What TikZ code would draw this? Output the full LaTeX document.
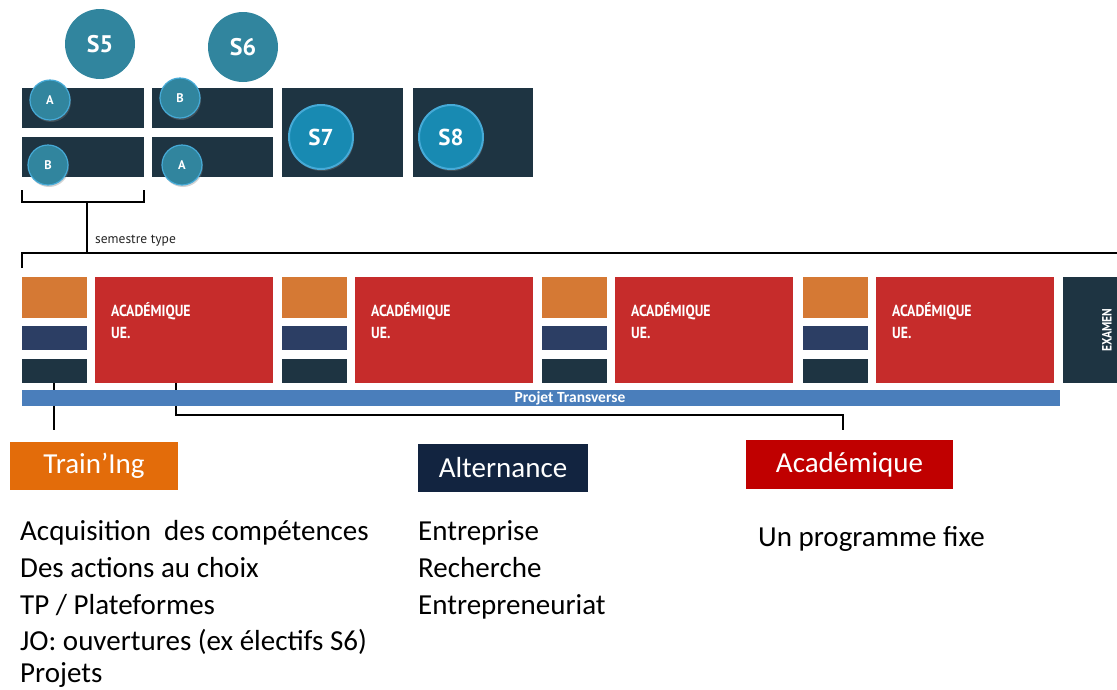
\documentclass[tikz,border=0pt]{standalone}
\usepackage{fontspec}
\setmainfont{Carlito}
\newfontfamily\dinfont{PT Sans}
\usetikzlibrary{shadows,calc}
\definecolor{darkb}{RGB}{30,52,66}
\definecolor{tealc}{RGB}{49,133,158}
\definecolor{rim}{RGB}{70,170,215}
\definecolor{sbig}{RGB}{24,138,178}
\definecolor{orangeb}{RGB}{213,121,52}
\definecolor{navyb}{RGB}{44,62,100}
\definecolor{redb}{RGB}{198,44,43}
\definecolor{projet}{RGB}{74,126,187}
\definecolor{trainc}{RGB}{227,108,10}
\definecolor{altc}{RGB}{18,36,64}
\definecolor{acadc}{RGB}{192,0,0}
\newcommand{\narrow}[1]{\scalebox{0.86}[1]{#1}}
\begin{document}
\begin{tikzpicture}[x=1pt,y=-1pt,
  blk/.style={inner sep=0pt, outer sep=0pt, anchor=north west, draw=none},
  bigc/.style={circle, fill=tealc, minimum size=70pt, inner sep=0pt, text=white, font=\dinfont\bfseries\fontsize{24}{26}\selectfont},
  smallc/.style={circle, fill=tealc, draw=rim, line width=1.2pt, minimum size=40pt, inner sep=0pt, text=white,
     font=\dinfont\bfseries\fontsize{12.5}{13}\selectfont, drop shadow={shadow xshift=1pt, shadow yshift=-2pt, opacity=0.35}},
  semc/.style={circle, fill=sbig, draw=rim, line width=2pt, minimum size=64pt, inner sep=0pt, text=white,
     font=\dinfont\bfseries\fontsize{23}{24}\selectfont, drop shadow={shadow xshift=1pt, shadow yshift=-2pt, opacity=0.35}},
  labbox/.style={inner sep=0pt, outer sep=0pt, anchor=north west, text=white, font=\fontsize{29}{30}\selectfont},
  acadtxt/.style={anchor=north west, inner sep=0pt, align=left, text=white, font=\dinfont\bfseries\fontsize{16}{22}\selectfont},
  listtxt/.style={anchor=base west, inner sep=0pt, font=\fontsize{29}{30}\selectfont},
  conn/.style={draw=black, line width=1.3pt}
]
\useasboundingbox (0,0) rectangle (1117,689);

% --- top semesters
\node[blk, fill=darkb, minimum width=122pt, minimum height=40pt] (s5a) at (22,88) {};
\node[blk, fill=darkb, minimum width=122pt, minimum height=40pt] (s5b) at (22,137) {};
\node[blk, fill=darkb, minimum width=121pt, minimum height=40pt] (s6b) at (152,88) {};
\node[blk, fill=darkb, minimum width=121pt, minimum height=40pt] (s6a) at (152,137) {};
\node[blk, fill=darkb, minimum width=121pt, minimum height=89pt] (s7box) at (282,88) {};
\node[blk, fill=darkb, minimum width=120pt, minimum height=89pt] (s8box) at (413,88) {};

\node[bigc] (S5) at (100,44) {S5};
\node[bigc] (S6) at (243,47) {S6};
\node[smallc] (ca1) at (50,100) {A};
\node[smallc] (cb1) at (48,165) {B};
\node[smallc] (cb2) at (180,98) {B};
\node[smallc] (ca2) at (182,165) {A};
\node[semc] (S7) at (321,137) {S7};
\node[semc] (S8) at (451,137) {S8};

% --- bracket and semestre type line
\coordinate (brl) at (22,190);
\coordinate (brr) at (144,190);
\coordinate (brm) at (87,202);
\coordinate (semL) at (22,253);
\coordinate (semR) at (1117,253);
\coordinate (semD) at (22,268);
\draw[conn] (brl) -- (22,202) -- (144,202) -- (brr);
\draw[conn] (brm) -- (brm |- semL);
\draw[conn] (semD) -- (semL) -- (semR);
\node[anchor=base west, inner sep=0pt, text=black!85, font=\dinfont\fontsize{13.5}{15}\selectfont] (semtxt) at (95,243) {semestre type};

% --- week blocks
\foreach \i/\x in {1/22, 2/282, 3/542, 4/803}{
  \node[blk, fill=orangeb, minimum width=65pt, minimum height=41pt] (o\i) at (\x,277) {};
  \node[blk, fill=navyb, minimum width=65pt, minimum height=24pt] (n\i) at (\x,326) {};
  \node[blk, fill=darkb, minimum width=65pt, minimum height=24pt] (d\i) at (\x,359) {};
  \node[blk, fill=redb, minimum width=178pt, minimum height=106pt] (r\i) at (\x+73,277) {};
  \node[acadtxt] (t\i) at (\x+89,302) {\narrow{ACADÉMIQUE}\\\narrow{UE.}};
}
\node[blk, fill=darkb, minimum width=54pt, minimum height=106pt] (exam) at (1063,277) {};
\node[rotate=90, inner sep=0pt, text=white, font=\dinfont\bfseries\fontsize{13.5}{14}\selectfont] (examtxt) at (1107,330) {\narrow{EXAMEN}};

% --- category labels
\node[labbox, fill=trainc, minimum width=168pt, minimum height=48pt] (train) at (10,442) {Train’Ing};
\node[labbox, fill=altc, minimum width=170pt, minimum height=48pt] (alt) at (418,444) {Alternance};
\node[labbox, fill=acadc, minimum width=207pt, minimum height=49pt] (acad) at (746,440) {Académique};

% --- connectors (under the project bar)
\coordinate (c1a) at ($(d1.south)+(-0.5,0)$);
\coordinate (c1b) at (54,430);
\draw[conn] (c1a) -- (c1b);
\coordinate (c2a) at (176,383);
\coordinate (c2b) at (843,430);
\draw[conn] (c2a) -- (176,415) -- (843,415) -- (c2b);

% --- projet transverse bar
\node[blk, fill=projet, minimum width=1038pt, minimum height=16pt] (bar) at (22,390) {};
\node[inner sep=0pt, text=white, font=\bfseries\fontsize{15.5}{16}\selectfont] (bartxt) at (570,398) {Projet Transverse};

% --- lists
\node[listtxt] (l1) at (20,540) {Acquisition\ \ des compétences};
\node[listtxt] (l2) at (20,577) {Des actions au choix};
\node[listtxt] (l3) at (20,614) {TP / Plateformes};
\node[listtxt] (l4) at (20,650) {JO: ouvertures (ex électifs S6)};
\node[listtxt] (l5) at (20,682) {Projets};
\node[listtxt] (m1) at (418,540) {Entreprise};
\node[listtxt] (m2) at (418,577) {Recherche};
\node[listtxt] (m3) at (418,614) {Entrepreneuriat};
\node[listtxt] (u1) at (758,546) {Un programme fixe};
\end{tikzpicture}
\end{document}
